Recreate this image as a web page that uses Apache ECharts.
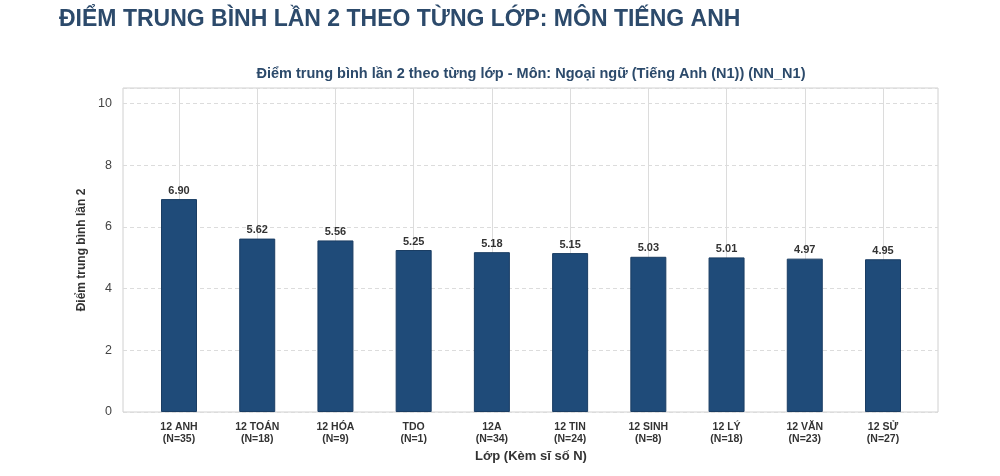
<!DOCTYPE html>
<html>
<head>
<meta charset="utf-8">
<script src="https://cdn.jsdelivr.net/npm/echarts@6/dist/echarts.min.js"></script>
<style>
  html, body { margin: 0; padding: 0; background: #fff; }
  #root { width: 1000px; height: 476px; }
</style>
</head>
<body>
<div id="root"></div>
<script>
// du lieu doc tu hinh
const classes = ['12 ANH', '12 TOÁN', '12 HÓA', 'TDO', '12A', '12 TIN', '12 SINH', '12 LÝ', '12 VĂN', '12 SỬ'];
const counts = [35, 18, 9, 1, 34, 24, 8, 18, 23, 27];
const scores = [6.90, 5.62, 5.56, 5.25, 5.18, 5.15, 5.03, 5.01, 4.97, 4.95];
const yTicks = [0, 2, 4, 6, 8, 10];

const font = 'Liberation Sans, Arial, sans-serif';
const textDark = '#333';

const chart = echarts.init(document.getElementById('root'));

const option = {
  backgroundColor: '#fff',
  animation: false,
  title: [{
    text: 'ĐIỂM TRUNG BÌNH LẦN 2 THEO TỪNG LỚP: MÔN TIẾNG ANH',
    left: 54,
    top: 3,
    textStyle: { fontFamily: font, fontWeight: 'bold', fontSize: 23, color: '#2c4a6b' }
  }, {
    text: 'Điểm trung bình lần 2 theo từng lớp - Môn: Ngoại ngữ (Tiếng Anh (N1)) (NN_N1)',
    left: 526,
    textAlign: 'center',
    top: 61,
    textStyle: { fontFamily: font, fontWeight: 'bold', fontSize: 14.5, color: '#2c4a6b' }
  }],
  grid: [
    // khung ngoai + duong ngang
    { left: 123, right: 62, top: 88, bottom: 64, show: true, borderColor: '#d0d0d0', borderWidth: 1 },
    // vung cot
    { left: 179, right: 117, top: 88, bottom: 64 }
  ],
  xAxis: [{
    gridIndex: 0, type: 'value', min: 0, max: 1, show: false
  }, {
    gridIndex: 1,
    type: 'value',
    min: 0,
    max: classes.length - 1,
    interval: 1,
    name: 'Lớp (Kèm sĩ số N)',
    nameLocation: 'middle',
    nameGap: 35,
    nameTextStyle: { fontFamily: font, fontWeight: 'bold', fontSize: 13, color: textDark },
    axisLine: { show: false },
    axisTick: { show: false },
    splitLine: { show: true, lineStyle: { color: '#dcdcdc', width: 1 } },
    axisLabel: {
      margin: 9,
      lineHeight: 12,
      fontFamily: font,
      fontWeight: 'bold',
      fontSize: 10.5,
      color: textDark,
      showMinLabel: true,
      showMaxLabel: true,
      formatter: v => classes[v] + '\n(N=' + counts[v] + ')'
    }
  }],
  yAxis: [{
    gridIndex: 0,
    type: 'value',
    min: 0,
    max: 10.5,
    interval: 2,
    name: 'Điểm trung bình lần 2',
    nameLocation: 'middle',
    nameGap: 23,
    nameTextStyle: { fontFamily: font, fontWeight: 'bold', fontSize: 12, color: textDark },
    axisLine: { show: false },
    axisTick: { show: false },
    axisLabel: {
      margin: 11,
      fontFamily: font,
      fontSize: 12.5,
      color: '#444',
      customValues: yTicks
    },
    splitLine: { show: true, lineStyle: { color: '#dcdcdc', type: [4, 3], width: 1 } }
  }, {
    gridIndex: 1, type: 'value', min: 0, max: 10.5, show: false
  }],
  series: [{
    type: 'bar',
    xAxisIndex: 1,
    yAxisIndex: 1,
    clip: false,
    barWidth: 36,
    data: scores.map((v, i) => [i, v]),
    itemStyle: { color: '#1f4b79', borderColor: '#1a3d63', borderWidth: 1 },
    label: {
      show: true,
      position: 'top',
      distance: 3,
      fontFamily: font,
      fontWeight: 'bold',
      fontSize: 11,
      color: textDark,
      formatter: p => p.value[1].toFixed(2)
    }
  }]
};

chart.setOption(option);
</script>
</body>
</html>
